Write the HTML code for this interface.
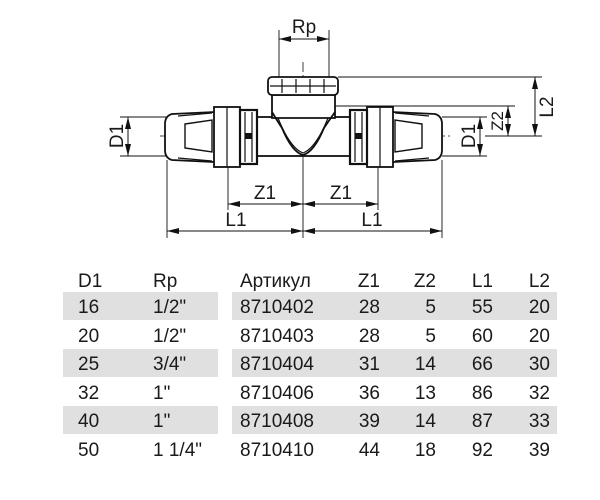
<!DOCTYPE html>
<html><head><meta charset="utf-8"><style>
html,body{margin:0;padding:0;background:#fff;width:600px;height:500px;overflow:hidden}
svg{display:block}
text{font-family:"Liberation Sans",sans-serif;fill:#1a1a1a}
</style></head><body>
<svg width="600" height="500" viewBox="0 0 600 500" xmlns="http://www.w3.org/2000/svg">
<defs>
<marker id="a" viewBox="0 0 12 6" refX="12" refY="3" markerWidth="12" markerHeight="6" orient="auto-start-reverse" markerUnits="userSpaceOnUse"><path d="M0,0L12,3L0,6z" fill="#111"/></marker>
<g id="side" stroke="#111" fill="none" stroke-width="1.8">
<path d="M215,112 L172,114 Q165,116 165,124 L165,150 Q165,158 172,160 L215,162 Z" fill="#fff"/>
<path d="M185,124 L212,120 L212,152 L185,148 Z" stroke-width="1.4"/>
<line x1="178" y1="116" x2="212" y2="113" stroke-width="1.2"/>
<line x1="178" y1="158" x2="212" y2="161" stroke-width="1.2"/>
<rect x="214" y="107" width="26" height="60" fill="#fff"/>
<line x1="227" y1="107" x2="227" y2="167" stroke-width="1.2"/>
<rect x="240" y="110" width="17" height="54" fill="#fff" stroke-width="2.2"/>
<line x1="245" y1="112" x2="245" y2="162" stroke-width="1.2"/>
<line x1="252" y1="112" x2="252" y2="162" stroke-width="1.2"/>
<rect x="245" y="133" width="7" height="6" fill="#111" stroke="none"/>
</g>
</defs>
<g stroke="#111" stroke-width="0.9" fill="none">
<line x1="279" y1="30" x2="279" y2="78"/><line x1="329" y1="30" x2="329" y2="78"/>
<line x1="338" y1="77" x2="542" y2="77"/>
<line x1="330" y1="106" x2="515" y2="106"/>
<line x1="442" y1="117" x2="487" y2="117"/><line x1="442" y1="156" x2="487" y2="156"/>
<line x1="120" y1="117" x2="167" y2="117"/><line x1="120" y1="156" x2="167" y2="156"/>
<line x1="485" y1="136" x2="542" y2="136"/>
<line x1="167" y1="160" x2="167" y2="238"/><line x1="442" y1="160" x2="442" y2="238"/>
<line x1="228" y1="167" x2="228" y2="210"/><line x1="378" y1="167" x2="378" y2="210"/>
<line x1="303" y1="160" x2="303" y2="238"/>
</g>
<g stroke="#111" stroke-width="0.8" stroke-dasharray="10,3,2,3">
<line x1="160" y1="136" x2="450" y2="136"/>
<line x1="303" y1="62" x2="303" y2="160"/>
</g>
<g stroke="#111" fill="#fff" stroke-width="1.8">
<rect x="257" y="117" width="96" height="39"/>
<path d="M272,95 L272,118 L335,118 L335,95 Z"/>
<path d="M272,112 Q278,122 282,128 Q292,152 303,155 Q314,152 324,128 Q328,122 335,112" fill="none"/>
<path d="M278,118 Q290,148 303,153" fill="none" stroke-width="1.2"/>
<path d="M328,118 Q316,148 303,153" fill="none" stroke-width="1.2"/>
<rect x="268" y="77" width="70" height="18" rx="4"/>
<g stroke-width="1.2"><line x1="282" y1="79" x2="282" y2="93"/><line x1="296" y1="79" x2="296" y2="93"/><line x1="310" y1="79" x2="310" y2="93"/><line x1="324" y1="79" x2="324" y2="93"/><line x1="270" y1="86" x2="336" y2="86"/></g>
</g>
<use href="#side"/>
<use href="#side" transform="translate(607,0) scale(-1,1)"/>
<g stroke="#111" stroke-width="1" marker-start="url(#a)" marker-end="url(#a)">
<line x1="279" y1="39" x2="329" y2="39"/>
<line x1="535" y1="77" x2="535" y2="136"/>
<line x1="508" y1="106" x2="508" y2="136"/>
<line x1="480" y1="117" x2="480" y2="156"/>
<line x1="128" y1="117" x2="128" y2="156"/>
<line x1="228" y1="204" x2="303" y2="204"/>
<line x1="303" y1="204" x2="378" y2="204"/>
<line x1="167" y1="231" x2="303" y2="231"/>
<line x1="303" y1="231" x2="442" y2="231"/>
</g>
<g font-size="19">
<text x="304" y="33" text-anchor="middle">Rp</text>
<text x="265" y="199" text-anchor="middle">Z1</text>
<text x="341" y="199" text-anchor="middle">Z1</text>
<text x="236" y="226" text-anchor="middle">L1</text>
<text x="372" y="226" text-anchor="middle">L1</text>
<text transform="translate(123,136) rotate(-90)" text-anchor="middle">D1</text>
<text transform="translate(475,136) rotate(-90)" text-anchor="middle">D1</text>
<text transform="translate(503,121) rotate(-90)" text-anchor="middle" font-size="17">Z2</text>
<text transform="translate(553,107) rotate(-90)" text-anchor="middle">L2</text>
</g>
<g fill="#e0e0e0">
<rect x="63" y="292" width="155" height="28"/><rect x="232" y="292" width="325" height="28"/>
<rect x="63" y="349" width="155" height="28"/><rect x="232" y="349" width="325" height="28"/>
<rect x="63" y="406" width="155" height="28"/><rect x="232" y="406" width="325" height="28"/>
</g>
<g font-size="19">
<g><text x="78" y="287">D1</text><text x="153" y="287">Rp</text><text x="240" y="287">Артикул</text><text x="380" y="287" text-anchor="end">Z1</text><text x="436" y="287" text-anchor="end">Z2</text><text x="493" y="287" text-anchor="end">L1</text><text x="550" y="287" text-anchor="end">L2</text></g>
<g><text x="78" y="313">16</text><text x="153" y="313">1/2"</text><text x="240" y="313">8710402</text><text x="380" y="313" text-anchor="end">28</text><text x="436" y="313" text-anchor="end">5</text><text x="493" y="313" text-anchor="end">55</text><text x="550" y="313" text-anchor="end">20</text></g>
<g><text x="78" y="342">20</text><text x="153" y="342">1/2"</text><text x="240" y="342">8710403</text><text x="380" y="342" text-anchor="end">28</text><text x="436" y="342" text-anchor="end">5</text><text x="493" y="342" text-anchor="end">60</text><text x="550" y="342" text-anchor="end">20</text></g>
<g><text x="78" y="370">25</text><text x="153" y="370">3/4"</text><text x="240" y="370">8710404</text><text x="380" y="370" text-anchor="end">31</text><text x="436" y="370" text-anchor="end">14</text><text x="493" y="370" text-anchor="end">66</text><text x="550" y="370" text-anchor="end">30</text></g>
<g><text x="78" y="399">32</text><text x="153" y="399">1"</text><text x="240" y="399">8710406</text><text x="380" y="399" text-anchor="end">36</text><text x="436" y="399" text-anchor="end">13</text><text x="493" y="399" text-anchor="end">86</text><text x="550" y="399" text-anchor="end">32</text></g>
<g><text x="78" y="427">40</text><text x="153" y="427">1"</text><text x="240" y="427">8710408</text><text x="380" y="427" text-anchor="end">39</text><text x="436" y="427" text-anchor="end">14</text><text x="493" y="427" text-anchor="end">87</text><text x="550" y="427" text-anchor="end">33</text></g>
<g><text x="78" y="456">50</text><text x="153" y="456">1 1/4"</text><text x="240" y="456">8710410</text><text x="380" y="456" text-anchor="end">44</text><text x="436" y="456" text-anchor="end">18</text><text x="493" y="456" text-anchor="end">92</text><text x="550" y="456" text-anchor="end">39</text></g>
</g>
</svg>
</body></html>
